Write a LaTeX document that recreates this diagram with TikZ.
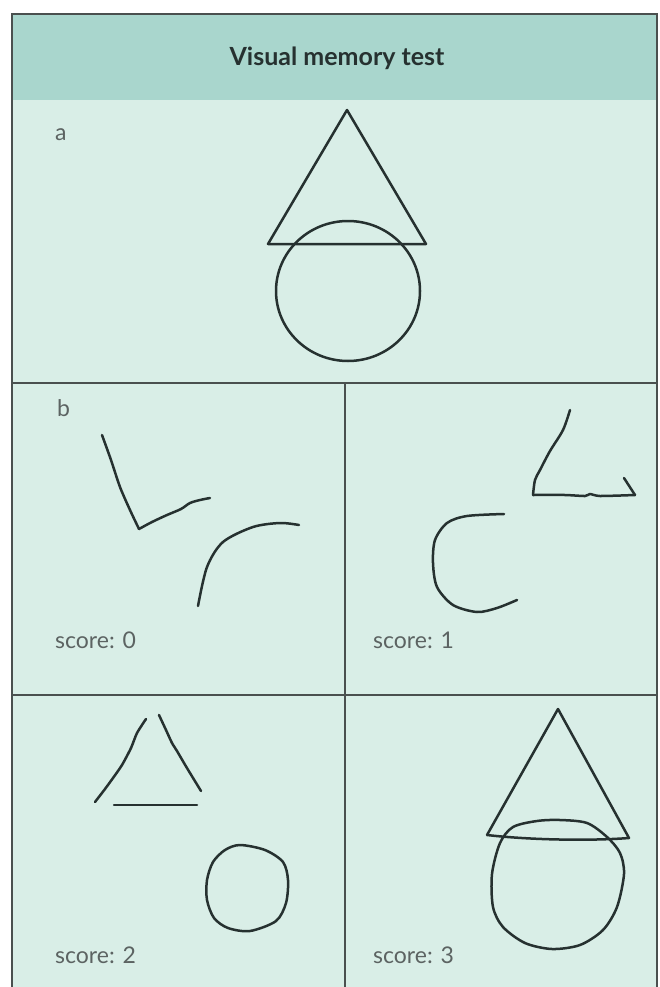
\documentclass[tikz,border=0pt]{standalone}
\usepackage{fontspec}
\setmainfont{Lato}
\usepackage{tikz}
\definecolor{headteal}{HTML}{A9D6CD}
\definecolor{panelmint}{HTML}{D9EEE7}
\definecolor{rulegrey}{HTML}{4A504F}
\definecolor{inkgrey}{HTML}{263130}
\definecolor{textgrey}{HTML}{5C6362}

\begin{document}
\begin{tikzpicture}[x=1pt,y=-1pt,
		pen/.style={draw=inkgrey, line width=2.5pt, line cap=round, line join=round},
		rule/.style={draw=rulegrey, line width=1.4pt},
		caption/.style={anchor=base west, inner sep=0pt, text=textgrey, font=\fontsize{23}{26}\selectfont}]
			\useasboundingbox (0,0) rectangle (660,987);
			\fill[white] (0,0) rectangle (660,987);

			%% panels
			\fill[panelmint] (12,14) rectangle (657,987);
			\fill[headteal] (12,14) rectangle (657,100);
			\draw[rule] (12,987) -- (12,14) -- (657,14) -- (657,987);
			\draw[rule] (12,383) -- (657,383);
			\draw[rule] (12,695) -- (657,695);
			\draw[rule] (345,383) -- (345,987);

			%% texts
			\node[inner sep=0pt, text=inkgrey, font=\bfseries\fontsize{25}{28}\selectfont] (title) at (337,58) {Visual memory test};
			\node[caption] (lbla) at (55,141) {a};
			\node[caption] (lblb) at (57,416) {b};
			\node[caption] (score0) at (55,648) {score: 0};
			\node[caption] (score1) at (373,648) {score: 1};
			\node[caption] (score2) at (55,963) {score: 2};
			\node[caption] (score3) at (373,963) {score: 3};

			%% a: the figure to copy
			\draw[pen] (268,244) -- (347,110) -- (426,244) -- cycle;
			\draw[pen] (348,291) ellipse [x radius=72, y radius=70];

			%% b, score 0
			\draw[pen] plot[smooth, tension=0.5] coordinates {(102,435) (111,460) (120,487) (130,510) (139,529)};
			\draw[pen] plot[smooth, tension=0.5] coordinates {(139,529) (152,522) (167,515) (181,509) (190,503) (200,500) (210,498)};
			\draw[pen] plot[smooth] coordinates {(198,606) (207,567) (223,542) (253,527) (280,523) (299,525)};

			%% b, score 1
			\draw[pen] plot[smooth, tension=0.5] coordinates {(570,410) (563,430) (550,451) (540,470) (535,480) (533,495)};
			\draw[pen] plot[smooth, tension=0.4] coordinates {(533,495) (565,495) (585,496) (590,494) (600,496) (635,495)};
			\draw[pen] (635,495) -- (624,478);
			\draw[pen] plot[smooth] coordinates {(504,514) (467,516) (447,523) (435,540) (433,563) (437,587) (453,605) (477,612) (497,608) (517,600)};

			%% b, score 2
			\draw[pen] plot[smooth, tension=0.4] coordinates {(146,719) (137,733) (131,748) (122,765) (113,778) (105,789) (95,802)};
			\draw[pen] plot[smooth, tension=0.4] coordinates {(159,715) (166,730) (172,743) (177,751) (184,763) (190,773) (201,791)};
			\draw[pen] (114,805) -- (197,805);
			\draw[pen] plot[smooth cycle] coordinates {(240,845) (265,850) (283,862) (288,880) (286,903) (276,921) (250,931) (228,928) (214,918) (207,900) (207,880) (213,862) (225,850)};

			%% b, score 3
			\draw[pen] (487,835) -- (558,709) -- (629,838) .. controls (590,841) and (530,840) .. (487,835);
			\draw[pen] plot[smooth cycle] coordinates {(560,820) (587,823) (607,837) (620,853) (624,874) (617,907) (603,930) (580,945) (552,949) (525,943) (503,927) (493,907) (492,874) (500,843) (513,827) (537,821)};
		\end{tikzpicture}
\end{document}
